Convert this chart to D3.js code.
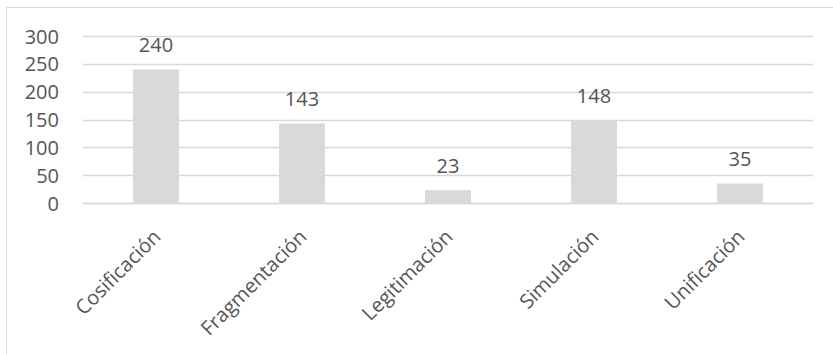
<!DOCTYPE html>
<html>
<head>
<meta charset="utf-8">
<script src="https://cdn.jsdelivr.net/npm/d3@7"></script>
<style>
  html, body { margin: 0; padding: 0; background: #fff; }
  svg { display: block; }
  text { font-family: "Open Sans", "Liberation Sans", sans-serif; fill: #555; }
</style>
</head>
<body>
<svg id="chart" width="833" height="354"></svg>
<script>
// Frequency of each category
const categories = ["Cosificación", "Fragmentación", "Legitimación", "Simulación", "Unificación"];
const values = [240, 143, 23, 148, 35];
const yTicks = [0, 50, 100, 150, 200, 250, 300];

const svg = d3.select("#chart");
const W = 833, H = 354;
const plot = { left: 83, right: 813, top: 36, bottom: 203 };

// Chart area border
svg.append("rect")
  .attr("x", 6.5).attr("y", 7.5)
  .attr("width", W + 10).attr("height", H + 10)
  .attr("fill", "#fff")
  .attr("stroke", "#d9d9d9")
  .attr("stroke-width", 1);

const x = d3.scaleBand()
  .domain(categories)
  .range([plot.left, plot.right])
  .paddingInner(0.685)
  .paddingOuter(0.3425);

const y = d3.scaleLinear()
  .domain([0, 300])
  .range([plot.bottom, plot.top]);

// Horizontal gridlines
svg.append("g")
  .selectAll("line")
  .data(yTicks)
  .join("line")
  .attr("x1", plot.left).attr("x2", plot.right)
  .attr("y1", d => Math.round(y(d)) + 0.5)
  .attr("y2", d => Math.round(y(d)) + 0.5)
  .attr("stroke", "#d9d9d9")
  .attr("stroke-width", 1.3);

// Y axis labels
const yAxis = d3.axisLeft(y).tickValues(yTicks).tickSize(0).tickPadding(0);
const gy = svg.append("g")
  .attr("transform", `translate(${plot.left - 24},0)`)
  .call(yAxis);
gy.select(".domain").remove();
gy.selectAll("text")
  .attr("font-size", 20)
  .attr("font-family", "Open Sans, Liberation Sans, sans-serif")
  .attr("fill", "#555")
  .attr("dy", "0.35em");

// Bars
svg.append("g")
  .selectAll("rect")
  .data(categories)
  .join("rect")
  .attr("x", d => x(d))
  .attr("width", x.bandwidth())
  .attr("y", (d, i) => y(values[i]))
  .attr("height", (d, i) => y(0) - y(values[i]))
  .attr("fill", "#d9d9d9");

// Baseline
svg.append("line")
  .attr("x1", plot.left).attr("x2", plot.right)
  .attr("y1", y(0) + 0.5).attr("y2", y(0) + 0.5)
  .attr("stroke", "#d9d9d9")
  .attr("stroke-width", 1.3);

// Value labels
svg.append("g")
  .selectAll("text")
  .data(categories)
  .join("text")
  .attr("x", d => x(d) + x.bandwidth() / 2)
  .attr("y", (d, i) => y(values[i]) - 17.5)
  .attr("text-anchor", "middle")
  .attr("font-size", 20)
  .text((d, i) => values[i]);

// X axis labels, rotated
const xAxis = d3.axisBottom(x).tickSize(0).tickPadding(0);
const gx = svg.append("g")
  .attr("transform", `translate(0,${plot.bottom})`)
  .call(xAxis);
gx.select(".domain").remove();
gx.selectAll("text")
  .attr("font-size", 20)
  .attr("font-family", "Open Sans, Liberation Sans, sans-serif")
  .attr("fill", "#555")
  .attr("text-anchor", "end")
  .attr("dy", 0)
  .attr("y", 0)
  .attr("transform", "translate(6,35) rotate(-45)");
</script>
</body>
</html>
